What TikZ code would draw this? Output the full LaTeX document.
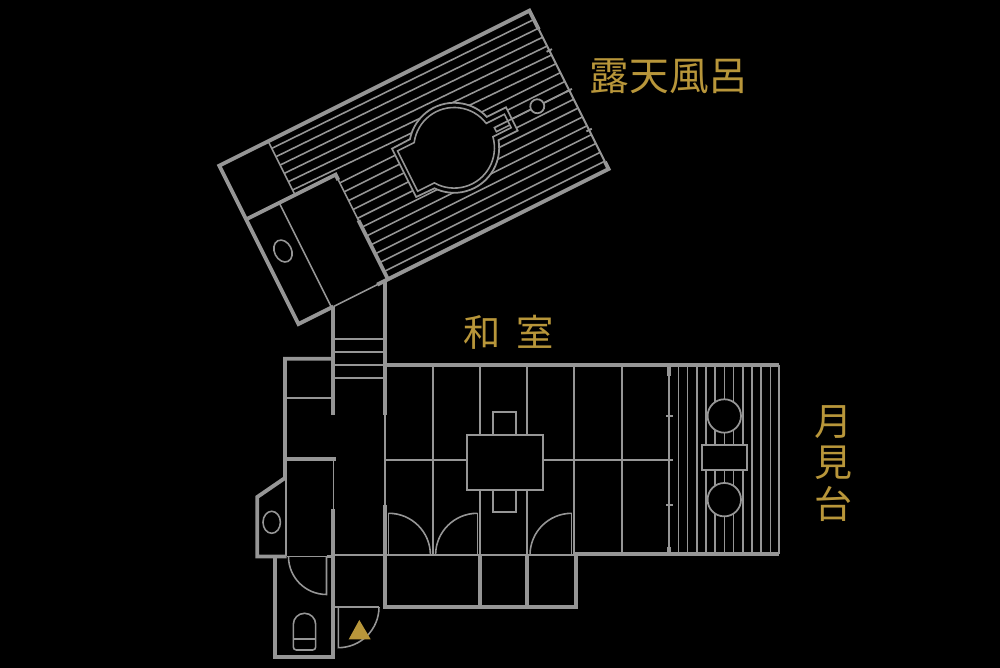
\documentclass[tikz,border=0pt]{standalone}
\usepackage{fontspec}
\newfontfamily\cjk{Noto Sans CJK JP}
\definecolor{plan-gray}{HTML}{969696}
\definecolor{plan-gold}{HTML}{B8963A}
\tikzset{
  wall/.style={draw=plan-gray,line width=1.1pt},
  midwall/.style={draw=plan-gray,line width=0.8pt},
  lightwall/.style={draw=plan-gray,line width=0.55pt},
  thinline/.style={draw=plan-gray,line width=0.45pt},
  furn/.style={draw=plan-gray,line width=0.5pt,fill=black},
  label/.style={text=plan-gold,font=\cjk\fontsize{#1}{#1}\selectfont,inner sep=0pt},
}
\begin{document}
\begin{tikzpicture}[x=0.01cm,y=-0.01cm]
  \pgfmathsetmacro{\hatch}{9.9}
  \fill[black] (0,0) rectangle (1000,668);
  \useasboundingbox (0,0) rectangle (1000,668);

  % open-air bath, in its own turned axes
  \begin{scope}[shift={(219.3,165.7)},x={(0.00894cm,0.00447cm)},y={(0.00447cm,-0.00894cm)}]
    \foreach \k in {1,...,17} {
      \pgfmathsetmacro{\br}{\k*\hatch}
      \pgfmathsetmacro{\first}{\k<7 ? 54.6 : 100}
      \pgfmathsetmacro{\bl}{\k<7 ? 8+9.3*(\k-1) : \br}
      \draw[thinline] (\first,\bl) -- (346.6,\br);
    }
    % tub
    \draw[furn] (162,62) -- ([shift={(-142.4:45)}]218,89) arc[start angle=-142.4,end angle=-16.8,radius=45]
      -- (282.5,76) -- (282.5,102) -- ([shift={(16.8:45)}]218,89) arc[start angle=16.8,end angle=142.4,radius=45]
      -- (162,116) -- cycle;
    \draw[thinline] (166,66.5) -- ([shift={(-146:40.3)}]218,89) arc[start angle=-146,end angle=-10.7,radius=40.3]
      -- (278,81.5) -- (278,96.5) -- ([shift={(10.7:40.3)}]218,89) arc[start angle=10.7,end angle=146,radius=40.3]
      -- (166,111.5) -- cycle;
    \draw[thinline] (278,93.5) -- (263,93.5) -- (263,89) -- (346.6,89);
    \draw[furn] (310.9,89) circle[radius=7];
    % walls
    \draw[wall] (39,177) -- (0,177) -- (0,0) -- (346.6,0) -- (346.6,21);
    \draw[lightwall] (346.6,21) -- (346.6,169);
    \draw[wall] (346.6,169) -- (346.6,177) -- (88,177);
    \draw[wall] (100,177) -- (100,111);
    \draw[thinline] (100,111) -- (100,60);
    \draw[wall] (0,60) -- (100,60) -- (100,66);
    \draw[thinline] (39,177) -- (88,177);
    \draw[thinline] (54.6,0) -- (54.6,60);
    \draw[thinline] (37,60) -- (37,177);
    \foreach \b in {44.5,89,133.5} {
      \draw[lightwall] (343.6,\b) -- (349.6,\b);
    }
    \draw[thinline] (18.8,104.8) ellipse[x radius=8.5,y radius=11.5];
  \end{scope}

  % stairs
  \draw[wall] (333.3,306.7) -- (333.3,415);
  \draw[wall] (385,281) -- (385,415);
  \foreach \y in {339,351.7,365,377.7} {
    \draw[lightwall] (333.3,\y) -- (385,\y);
  }

  % corridor, washroom and toilet
  \draw[wall] (333.3,358.7) -- (285,358.7) -- (285,478) -- (257.3,497) -- (257.3,556.5) -- (286.7,556.5);
  \draw[wall] (275,556.5) -- (275,657) -- (333.3,657) -- (333.3,509);
  \draw[wall] (285,459) -- (335.7,459);
  \draw[lightwall] (285,397.7) -- (333.3,397.7);
  \draw[thinline] (333.3,459) -- (333.3,509);
  \draw[thinline] (286,478) -- (286,556.5);
  \draw[thinline] (286.7,556.5) -- (326.5,556.5);
  \draw[midwall] (326.5,556.5) -- (333.3,556.5);
  \draw[thinline] (288.5,556.5) arc[start angle=180,end angle=90,radius=38] -- (326.5,556.5);
  \draw[thinline] (271.7,522.3) ellipse[x radius=8.7,y radius=11];
  \draw[thinline] (293.3,624.5) arc[start angle=180,end angle=360,radius=11.2] -- (315.7,647) arc[start angle=0,end angle=90,radius=3]
    -- (296.3,650) arc[start angle=90,end angle=180,radius=3] -- cycle;
  \draw[thinline] (293.3,639) -- (315.7,639);

  % entrance
  \draw[lightwall] (333.3,555.3) -- (385,555.3);
  \draw[midwall] (333.3,607) -- (338.3,607);
  \draw[thinline] (338.3,607) -- (379,607);
  \draw[thinline] (379,607) arc[start angle=0,end angle=90,radius=40.7] -- (338.3,607);
  \fill[plan-gold] (359.3,620) -- (370.7,639.3) -- (348.7,639.3) -- cycle;

  % main room
  \draw[wall] (385,365) -- (779,365);
  \draw[thinline] (385,415) -- (385,505);
  \draw[wall] (385,505) -- (385,606.7) -- (576,606.7) -- (576,554.3) -- (779,554.3);
  \draw[lightwall] (385,555) -- (576,555);
  \foreach \x in {480,527} {
    \draw[wall,line width=0.95pt] (\x,555) -- (\x,606.7);
    \draw[lightwall] (\x,365) -- (\x,435);
    \draw[lightwall] (\x,490) -- (\x,555);
  }
  \foreach \x in {433,574,621.6} {
    \draw[lightwall] (\x,365) -- (\x,555);
  }
  \draw[lightwall] (385,460) -- (672.7,460);
  \draw[furn] (493.3,412.3) rectangle (516.3,435);
  \draw[furn] (493.3,490) rectangle (516.3,511.7);
  \draw[furn] (466.7,435) rectangle (543.3,490);
  \foreach \x/\from in {388.7/0,477.3/180,571.7/180} {
    \draw[thinline] (\x,555) -- (\x,513.3);
    \ifnum\from=0
      \draw[thinline] (\x,513.3) arc[start angle=270,end angle=360,radius=41.7];
    \else
      \draw[thinline] (\x,513.3) arc[start angle=270,end angle=180,radius=41.7];
    \fi
  }

  % moon-viewing deck
  \foreach \k in {0,...,10} {
    \draw[thinline] (678.3+9.2*\k,365) -- (678.3+9.2*\k,554.3);
  }
  \draw[midwall] (779,365) -- (779,554.3);
  \draw[lightwall] (669,365) -- (669,554.3);
  \draw[wall] (669,365) -- (669,376);
  \draw[wall] (669,547) -- (669,554.3);
  \foreach \y in {416,505} {
    \draw[lightwall] (666,\y) -- (672.7,\y);
  }
  \draw[furn] (724.3,416) circle[radius=16.7];
  \draw[furn] (724.3,499.7) circle[radius=16.7];
  \draw[furn] (701.7,445) rectangle (747,470.3);

  \node[label=11.3pt] (bath-lbl) at (669,76) {露天風呂};
  \node[label=10.6pt] (room-lbl) at (509,332) {\spaceskip=.42em 和 室};
  \node[label=10.8pt,align=center] (deck-lbl) at (833,463.5) {月\\[1pt]見\\[1pt]台};
\end{tikzpicture}
\end{document}
